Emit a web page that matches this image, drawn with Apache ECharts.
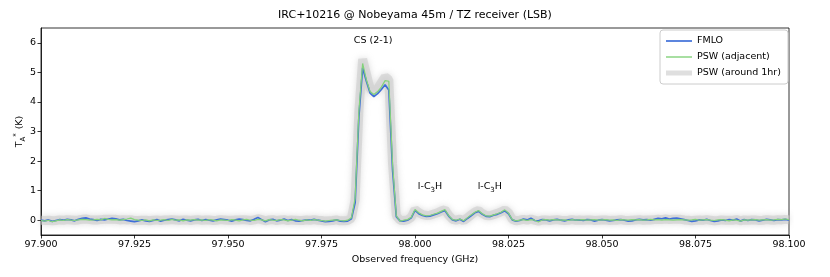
<!DOCTYPE html>
<html>
<head>
<meta charset="utf-8">
<script src="https://cdn.jsdelivr.net/npm/echarts@6/dist/echarts.min.js"></script>
<style>html,body{margin:0;padding:0;background:#fff}#c{width:830px;height:277px}</style>
</head>
<body>
<div id="c"></div>
<script>
// Frequency grid (GHz): 97.900 .. 98.100, 1 MHz channels
const freqStart = 97.900;
const freqStep = 0.001;
const nChan = 201;

const xTicks = [97.900, 97.925, 97.950, 97.975, 98.000, 98.025, 98.050, 98.075, 98.100];
const yTicks = [0, 1, 2, 3, 4, 5, 6];

// FMLO (K)
const fmlo = [
 0.00,-0.02,0.01,-0.04,-0.01,0.02,0.00,0.03,0.01,-0.02,
 0.03,0.06,0.08,0.04,0.02,-0.01,0.03,0.01,0.04,0.06,
 0.05,0.01,0.03,-0.01,-0.03,-0.05,-0.02,0.01,-0.02,-0.04,
 -0.01,0.02,-0.03,0.00,0.02,0.04,0.01,-0.02,0.03,0.00,
 -0.02,0.01,0.03,-0.01,0.02,0.00,-0.02,0.01,0.04,0.02,
 0.00,-0.03,0.01,0.04,0.02,-0.01,-0.02,0.03,0.09,0.02,
 -0.05,0.01,0.03,-0.02,0.00,0.04,-0.01,0.02,-0.02,-0.03,
 -0.01,0.01,0.00,0.03,0.00,-0.02,-0.05,-0.04,-0.02,0.01,
 -0.03,-0.04,-0.03,0.05,0.60,3.50,5.15,4.70,4.30,4.18,
 4.28,4.42,4.58,4.40,1.70,0.12,-0.02,-0.03,0.00,0.08,
 0.33,0.22,0.16,0.13,0.14,0.18,0.22,0.28,0.33,0.14,
 0.01,-0.02,0.03,-0.04,0.06,0.15,0.25,0.30,0.20,0.13,
 0.12,0.17,0.20,0.25,0.32,0.22,0.01,-0.03,-0.01,0.04,
 0.01,0.07,-0.01,-0.02,0.02,0.01,-0.02,0.01,0.03,0.00,
 -0.02,0.01,0.03,0.00,0.01,-0.01,0.02,0.01,-0.03,0.00,
 0.02,0.00,-0.02,-0.01,0.01,0.02,0.00,-0.03,-0.02,0.01,
 0.03,0.01,0.02,0.00,0.03,0.06,0.05,0.08,0.04,0.06,
 0.07,0.05,0.02,-0.01,-0.04,-0.02,0.01,0.00,0.03,-0.01,
 -0.04,-0.02,0.01,-0.01,0.02,0.00,0.04,-0.03,0.02,-0.01,
 0.02,0.01,-0.02,0.00,0.03,0.01,-0.01,0.02,0.01,0.03,
 0.00
];

// PSW (adjacent) (K)
const pswAdj = [
 -0.01,-0.03,0.00,-0.05,-0.02,0.01,-0.01,0.02,0.00,-0.01,
 0.01,0.03,0.02,0.00,0.01,0.03,0.01,0.06,0.03,0.01,
 0.02,0.00,0.02,0.04,0.07,0.02,0.00,-0.01,0.01,-0.02,
 0.01,-0.01,0.00,0.02,-0.01,0.03,0.00,0.01,-0.02,0.01,
 0.00,0.02,0.00,0.01,-0.01,0.02,0.00,-0.02,0.01,0.00,
 -0.01,0.02,0.00,-0.02,0.01,0.03,0.00,-0.01,0.03,0.01,
 -0.02,0.02,0.00,-0.01,0.02,0.01,-0.02,0.00,0.03,0.00,
 -0.02,0.01,-0.01,0.02,0.00,-0.01,-0.03,-0.01,0.00,0.01,
 -0.01,-0.02,0.00,0.08,0.75,3.70,5.30,4.75,4.35,4.25,
 4.35,4.50,4.72,4.70,1.90,0.15,-0.03,0.00,0.02,0.10,
 0.36,0.25,0.18,0.15,0.16,0.20,0.24,0.30,0.36,0.16,
 0.02,0.00,0.04,-0.02,0.08,0.18,0.27,0.33,0.22,0.15,
 0.14,0.18,0.22,0.27,0.35,0.24,0.02,-0.02,0.00,0.02,
 -0.01,0.02,0.00,-0.06,0.01,0.02,0.00,0.02,0.01,0.00,
 0.01,-0.01,0.02,0.00,0.01,0.02,0.00,0.01,0.02,0.00,
 0.01,0.02,0.00,0.01,-0.01,0.02,0.01,0.00,0.02,0.01,
 0.02,0.00,0.01,0.03,0.01,0.02,0.00,0.02,0.01,0.00,
 0.01,0.02,0.01,0.00,0.01,0.03,0.00,0.01,0.02,0.00,
 -0.01,0.01,0.02,0.00,-0.02,0.01,0.00,-0.03,0.01,0.00,
 0.01,0.02,0.00,0.01,0.02,0.00,0.01,0.03,0.02,0.04,
 0.02
];

// PSW (around 1hr) (K)
const pswHr = [
 0.00,-0.01,0.00,-0.02,-0.01,0.01,0.00,0.02,0.01,0.00,
 0.01,0.03,0.04,0.02,0.01,0.01,0.02,0.03,0.03,0.03,
 0.03,0.01,0.02,0.01,0.02,-0.01,-0.01,0.00,0.00,-0.02,
 0.00,0.01,-0.01,0.01,0.01,0.02,0.01,0.00,0.01,0.01,
 -0.01,0.01,0.02,0.00,0.01,0.01,-0.01,0.00,0.02,0.01,
 0.00,0.00,0.01,0.01,0.02,0.01,-0.01,0.01,0.05,0.02,
 -0.02,0.01,0.02,-0.01,0.01,0.02,-0.01,0.01,0.00,-0.01,
 -0.01,0.01,0.00,0.02,0.00,-0.01,-0.03,-0.02,-0.01,0.01,
 -0.02,-0.02,-0.01,0.07,0.70,3.70,5.45,4.95,4.45,4.35,
 4.45,4.65,4.85,4.75,1.90,0.15,0.00,-0.01,0.01,0.10,
 0.36,0.26,0.19,0.16,0.17,0.21,0.25,0.31,0.36,0.17,
 0.03,0.00,0.04,-0.02,0.08,0.18,0.28,0.33,0.23,0.16,
 0.15,0.19,0.23,0.28,0.35,0.25,0.03,-0.02,0.00,0.03,
 0.00,0.04,0.00,-0.03,0.01,0.01,-0.01,0.01,0.02,0.00,
 -0.01,0.00,0.02,0.00,0.01,0.00,0.01,0.01,-0.01,0.00,
 0.01,0.01,-0.01,0.00,0.00,0.02,0.00,-0.01,0.00,0.01,
 0.02,0.00,0.01,0.01,0.02,0.03,0.02,0.04,0.02,0.03,
 0.03,0.03,0.01,0.00,-0.02,0.00,0.01,0.00,0.02,0.00,
 -0.02,-0.01,0.01,0.00,0.00,0.00,0.02,-0.02,0.01,0.00,
 0.01,0.01,-0.01,0.00,0.02,0.01,0.00,0.02,0.01,0.03,
 0.01
];

// Line annotations: [label, freq (GHz), T (K)]
const annotations = [
  ['CS (2-1)', 97.9888, 6.08],
  ['l-C{sub|3}H', 98.0040, 1.14],
  ['l-C{sub|3}H', 98.0200, 1.14]
];

const freqs = [];
for (let i = 0; i < nChan; i++) freqs.push(+(freqStart + i * freqStep).toFixed(4));
const pair = arr => arr.map((v, i) => [freqs[i], v]);

const font = 'DejaVu Sans';
const chart = echarts.init(document.getElementById('c'), null, {renderer: 'canvas'});
chart.setOption({
  animation: false,
  backgroundColor: '#fff',
  title: {
    text: 'IRC+10216 @ Nobeyama 45m / TZ receiver (LSB)',
    left: 'center', top: 5,
    textStyle: {fontFamily: font, fontSize: 11, fontWeight: 'normal', color: '#000'}
  },
  legend: {
    orient: 'vertical', left: 660, top: 30,
    data: [
      {name: 'FMLO', icon: 'path://M0,0H26V1.7H0Z'},
      {name: 'PSW (adjacent)', icon: 'path://M0,0H26V1.4H0Z'},
      {name: 'PSW (around 1hr)', icon: 'path://M0,0H26V5H0Z'}
    ],
    itemWidth: 26, itemHeight: 8, itemGap: 6,
    padding: [6, 7, 6, 6],
    borderColor: '#cccccc', borderWidth: 1, borderRadius: 3,
    backgroundColor: 'rgba(255,255,255,0.85)',
    textStyle: {fontFamily: font, fontSize: 9.5, color: '#000'}
  },
  grid: {left: 41, right: 41, top: 28, bottom: 42, outerBoundsMode: 'none', containLabel: false,
         show: true, borderColor: '#000', borderWidth: 0.8},
  xAxis: {
    type: 'value', min: 97.9, max: 98.1,
    name: 'Observed frequency (GHz)', nameLocation: 'middle', nameGap: 19,
    nameTextStyle: {fontFamily: font, fontSize: 9.5, color: '#000'},
    axisLine: {onZero: false, lineStyle: {color: '#000', width: 0.8}},
    axisTick: {customValues: xTicks, length: 3.5, lineStyle: {color: '#000', width: 0.8}},
    axisLabel: {customValues: xTicks, formatter: v => v.toFixed(3), fontFamily: font, fontSize: 9.5, color: '#000', margin: 5},
    splitLine: {show: false}
  },
  yAxis: {
    type: 'value', min: -0.5, max: 6.5,
    name: '{t|T}{s|A}{p|*} {t|(K)}', nameLocation: 'middle', nameGap: 14, nameRotate: 90,
    nameMoveOverlap: false,
    nameTextStyle: {
      fontFamily: font, color: '#000',
      rich: {
        t: {fontFamily: font, fontSize: 9.5, color: '#000', verticalAlign: 'middle', lineHeight: 14},
        s: {fontFamily: font, fontSize: 7, color: '#000', verticalAlign: 'bottom', lineHeight: 14},
        p: {fontFamily: font, fontSize: 7, color: '#000', verticalAlign: 'top', lineHeight: 14}
      }
    },
    axisLine: {show: true, onZero: false, lineStyle: {color: '#000', width: 0.8}},
    axisTick: {show: true, customValues: yTicks, length: 3.5, lineStyle: {color: '#000', width: 0.8}},
    axisLabel: {customValues: yTicks, fontFamily: font, fontSize: 9.5, color: '#000', margin: 5},
    splitLine: {show: false}
  },
  series: [
    {
      name: 'PSW (around 1hr)', type: 'line', symbol: 'none', z: 1,
      data: pair(pswHr),
      lineStyle: {color: 'rgba(205,205,205,0.6)', width: 9, shadowBlur: 6, shadowColor: 'rgba(175,175,175,0.7)'},
      itemStyle: {color: 'rgba(220,220,220,0.9)'}
    },
    {
      name: 'FMLO', type: 'line', symbol: 'none', z: 2,
      data: pair(fmlo),
      lineStyle: {color: '#3f6fd8', width: 1.7},
      itemStyle: {color: '#3f6fd8'},
      markPoint: {
        symbol: 'circle', symbolSize: 0,
        data: annotations.map(a => ({
          coord: [a[1], a[2]],
          label: {
            show: true, position: 'inside', formatter: a[0],
            fontFamily: font, fontSize: 9.5, color: '#000',
            rich: {sub: {fontFamily: font, fontSize: 7, color: '#000', verticalAlign: 'bottom', lineHeight: 14}}
          }
        }))
      }
    },
    {
      name: 'PSW (adjacent)', type: 'line', symbol: 'none', z: 3,
      data: pair(pswAdj),
      lineStyle: {color: '#83d27a', width: 1.2},
      itemStyle: {color: '#83d27a'}
    }
  ]
});
</script>
</body>
</html>
